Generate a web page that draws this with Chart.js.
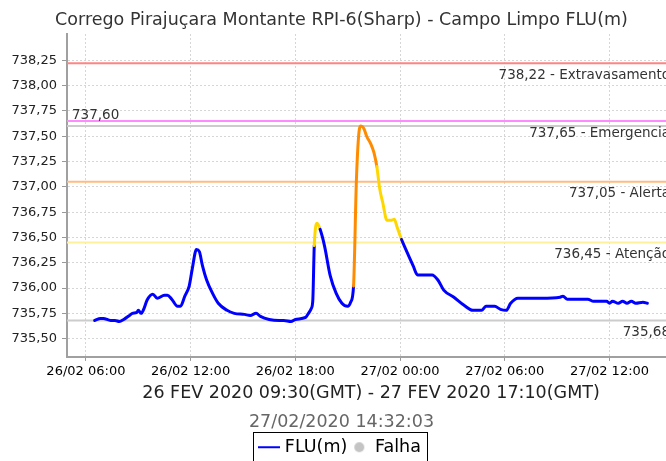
<!DOCTYPE html>
<html>
<head>
<meta charset="utf-8">
<script src="https://cdn.jsdelivr.net/npm/chart.js@4/dist/chart.umd.min.js"></script>
<style>
  html, body { margin: 0; padding: 0; background: #fff; overflow: hidden; }
</style>
</head>
<body>
<canvas id="chart" width="681" height="466"></canvas>
<script>
// leituras do sensor (hora local)
const times = [
    '26/02 06:30', '26/02 06:50', '26/02 07:00', '26/02 07:25', '26/02 07:40', '26/02 07:55',
    '26/02 08:10', '26/02 08:30', '26/02 08:40', '26/02 08:55', '26/02 09:00', '26/02 09:10',
    '26/02 09:20', '26/02 09:30', '26/02 09:50', '26/02 10:05', '26/02 10:30', '26/02 10:40',
    '26/02 10:55', '26/02 11:15', '26/02 11:25', '26/02 11:40', '26/02 11:55', '26/02 12:05',
    '26/02 12:20', '26/02 12:30', '26/02 12:40', '26/02 12:55', '26/02 13:15', '26/02 13:35',
    '26/02 14:05', '26/02 14:30', '26/02 15:05', '26/02 15:25', '26/02 15:45', '26/02 16:00',
    '26/02 16:30', '26/02 17:05', '26/02 17:20', '26/02 17:45', '26/02 18:00', '26/02 18:35',
    '26/02 18:45', '26/02 18:55', '26/02 19:00', '26/02 19:05', '26/02 19:15', '26/02 19:25',
    '26/02 19:40', '26/02 20:00', '26/02 20:20', '26/02 20:40', '26/02 21:00', '26/02 21:10',
    '26/02 21:20', '26/02 21:30', '26/02 21:40', '26/02 21:45', '26/02 21:55', '26/02 22:05',
    '26/02 22:20', '26/02 22:30', '26/02 22:40', '26/02 22:50', '26/02 23:00', '26/02 23:15',
    '26/02 23:30', '26/02 23:40', '26/02 23:50', '27/02 00:05', '27/02 00:20', '27/02 00:45',
    '27/02 01:00', '27/02 01:25', '27/02 01:50', '27/02 02:10', '27/02 02:30', '27/02 03:05',
    '27/02 03:40', '27/02 04:10', '27/02 04:40', '27/02 04:55', '27/02 05:25', '27/02 05:45',
    '27/02 06:05', '27/02 06:20', '27/02 06:45', '27/02 08:05', '27/02 09:10', '27/02 09:20',
    '27/02 09:35', '27/02 10:45', '27/02 11:05', '27/02 11:50', '27/02 12:00', '27/02 12:10',
    '27/02 12:30', '27/02 12:45', '27/02 13:00', '27/02 13:15', '27/02 13:30', '27/02 13:55',
    '27/02 14:10'
];
const levels = [
    735.68, 735.70, 735.70, 735.68, 735.68, 735.67,
    735.69, 735.73, 735.75, 735.76, 735.78, 735.75,
    735.80, 735.88, 735.94, 735.90, 735.93, 735.93,
    735.89, 735.82, 735.82, 735.92, 736.02, 736.18,
    736.38, 736.36, 736.23, 736.08, 735.95, 735.85,
    735.78, 735.75, 735.74, 735.73, 735.75, 735.72,
    735.69, 735.68, 735.68, 735.67, 735.69, 735.71,
    735.75, 735.80, 735.88, 736.42, 736.64, 736.58,
    736.42, 736.12, 735.95, 735.85, 735.82, 735.86,
    736.02, 737.08, 737.57, 737.60, 737.58, 737.50,
    737.42, 737.34, 737.20, 736.98, 736.85, 736.67,
    736.67, 736.68, 736.60, 736.48, 736.38, 736.22,
    736.13, 736.13, 736.13, 736.08, 735.98, 735.91,
    735.83, 735.78, 735.78, 735.82, 735.82, 735.79,
    735.78, 735.85, 735.90, 735.90, 735.91, 735.92,
    735.89, 735.89, 735.87, 735.87, 735.85, 735.87,
    735.85, 735.87, 735.85, 735.87, 735.85, 735.86,
    735.85
];

// eixos
const xTicks = [6, 12, 18, 24, 30, 36];   // horas desde 26/02 00:00
const xTickLabels = ['26/02 06:00', '26/02 12:00', '26/02 18:00', '27/02 00:00', '27/02 06:00', '27/02 12:00'];
const yTicks = [735.50, 735.75, 736.00, 736.25, 736.50, 736.75, 737.00, 737.25, 737.50, 737.75, 738.00, 738.25];

// cotas de alerta
const alertValues = [738.22, 737.65, 737.05, 736.45];
const alertNames = ['Extravasamento', 'Emergencia', 'Alerta', 'Atenção'];
const alertColors = ['#ff8484', '#ff8cff', '#ffbc80', '#fff09c'];
const lineColors = ['#ff0000', '#ff00ff', '#ff8c00', '#ffd700'];   // cor da serie acima de cada cota
const maxLevel = 737.60;
const minLevel = 735.68;

const titleText = 'Corrego Pirajuçara Montante RPI-6(Sharp) - Campo Limpo FLU(m)';
const periodText = '26 FEV 2020 09:30(GMT) - 27 FEV 2020 17:10(GMT)';
const stampText = '27/02/2020 14:32:03';

Chart.defaults.font.family = '"DejaVu Sans", sans-serif';
Chart.defaults.color = '#333';

function toHours(s) {
    let day = parseInt(s.slice(0, 2));
    let hh = parseInt(s.slice(6, 8));
    let mm = parseInt(s.slice(9, 11));
    return (day - 26) * 24 + hh + mm / 60;
}

function fmt(v) {
    return v.toFixed(2).replace('.', ',');
}

// cor do trecho pela cota do ponto final
function colorForLevel(v) {
    for (let i = 0; i < alertValues.length; i++) {
        if (v >= alertValues[i]) return lineColors[i];
    }
    return '#0000ff';
}

const thresholdPlugin = {
    id: 'thresholds',
    beforeDatasetsDraw(chart) {
        let ctx = chart.ctx;
        let a = chart.chartArea;
        let y = chart.scales.y;
        ctx.save();
        ctx.lineWidth = 2;
        let lines = alertValues.map((v, i) => ({ v: v, color: alertColors[i], text: fmt(v) + ' - ' + alertNames[i], left: false }));
        lines.push({ v: maxLevel, color: '#cccccc', text: fmt(maxLevel), left: true });
        lines.push({ v: minLevel, color: '#cccccc', text: fmt(minLevel), left: false });
        lines.forEach(l => {
            let py = y.getPixelForValue(l.v);
            ctx.strokeStyle = l.color;
            ctx.beginPath();
            ctx.moveTo(a.left, py);
            ctx.lineTo(a.right, py);
            ctx.stroke();
        });
        ctx.font = '13.5px "DejaVu Sans"';
        ctx.fillStyle = '#333';
        ctx.textBaseline = 'middle';
        lines.forEach(l => {
            let py = y.getPixelForValue(l.v);
            if (l.left) {
                ctx.textAlign = 'left';
                ctx.fillText(l.text, a.left + 5, py - 11);
            } else {
                ctx.textAlign = 'right';
                ctx.fillText(l.text, a.right - 5, py + 12);
            }
        });
        ctx.restore();
    },
    afterDraw(chart) {
        // moldura da legenda
        let boxes = chart.legend.legendHitBoxes;
        if (!boxes || !boxes.length) return;
        let first = boxes[0];
        let last = boxes[boxes.length - 1];
        let ctx = chart.ctx;
        let top = first.top + first.height / 2 - 15;
        ctx.save();
        ctx.strokeStyle = '#000';
        ctx.lineWidth = 1;
        ctx.strokeRect(Math.round(first.left - 9) + 0.5, Math.round(top) + 0.5,
            Math.round(last.left + last.width + 6 - (first.left - 9)), 32);
        ctx.restore();
    }
};

function legendLine() {
    let c = document.createElement('canvas');
    c.width = 22; c.height = 4;
    let g = c.getContext('2d');
    g.strokeStyle = '#0000ff';
    g.lineWidth = 2;
    g.beginPath(); g.moveTo(0, 2); g.lineTo(22, 2); g.stroke();
    return c;
}

function legendDot() {
    let c = document.createElement('canvas');
    c.width = 12; c.height = 12;
    let g = c.getContext('2d');
    g.fillStyle = '#c4c4c4';
    g.beginPath(); g.arc(6, 6, 5, 0, Math.PI * 2); g.fill();
    return c;
}

let points = times.map((t, i) => ({ x: toHours(t), y: levels[i] }));

let ctx = document.getElementById('chart').getContext('2d');
window.myChart = new Chart(ctx, {
    type: 'line',
    data: {
        datasets: [{
            label: 'FLU(m)',
            data: points,
            borderColor: '#0000ff',
            borderWidth: 3,
            borderCapStyle: 'round',
            borderJoinStyle: 'round',
            pointRadius: 0,
            cubicInterpolationMode: 'monotone',
            fill: false,
            segment: {
                borderColor: c => colorForLevel(c.p1.parsed.y)
            }
        }]
    },
    options: {
        responsive: false,
        animation: false,
        layout: { padding: { left: 8, right: 6, top: 0, bottom: 0 } },
        plugins: {
            title: {
                display: true,
                text: titleText,
                color: '#333',
                font: { size: 17.5, weight: 'normal' },
                padding: { top: 10, bottom: 3 }
            },
            subtitle: {
                display: true,
                position: 'bottom',
                weight: 500,
                text: stampText,
                color: '#666',
                font: { size: 17.5 },
                padding: { top: 5, bottom: 1 }
            },
            legend: {
                position: 'bottom',
                onClick: null,
                labels: {
                    usePointStyle: true,
                    boxWidth: 14,
                    padding: 5,
                    color: '#111',
                    font: { size: 17.5 },
                    generateLabels: function() {
                        return [
                            { text: 'FLU(m)', pointStyle: legendLine(), fillStyle: '#0000ff', strokeStyle: '#0000ff', lineWidth: 0 },
                            { text: 'Falha', pointStyle: legendDot(), fillStyle: '#c4c4c4', strokeStyle: '#c4c4c4', lineWidth: 0 }
                        ];
                    }
                }
            },
            tooltip: { enabled: false }
        },
        scales: {
            x: {
                type: 'linear',
                min: 4.917,
                max: 39.75,
                afterBuildTicks: function(scale) {
                    scale.ticks = xTicks.map(v => ({ value: v }));
                },
                ticks: {
                    autoSkip: false,
                    maxRotation: 0,
                    padding: 3,
                    color: '#000',
                    font: { size: 13 },
                    callback: function(value, index) {
                        return xTickLabels[index];
                    }
                },
                grid: { color: '#d6d6d6', tickLength: 4, tickColor: '#999' },
                border: { color: '#a0a0a0', width: 2, dash: [2, 2] },
                title: {
                    display: true,
                    text: periodText,
                    color: '#222',
                    font: { size: 17.5 },
                    padding: { top: 0, bottom: 3 }
                }
            },
            y: {
                min: 735.32,
                max: 738.51,
                afterBuildTicks: function(scale) {
                    scale.ticks = yTicks.map(v => ({ value: v }));
                },
                afterFit: function(scale) {
                    scale.width = 59;
                },
                ticks: {
                    padding: 5,
                    color: '#222',
                    font: { size: 13 },
                    callback: function(value) {
                        return fmt(value);
                    }
                },
                grid: { color: '#d6d6d6', tickLength: 5, tickColor: '#999' },
                border: { color: '#a0a0a0', width: 2, dash: [2, 2] }
            }
        }
    },
    plugins: [thresholdPlugin]
});
</script>
</body>
</html>
